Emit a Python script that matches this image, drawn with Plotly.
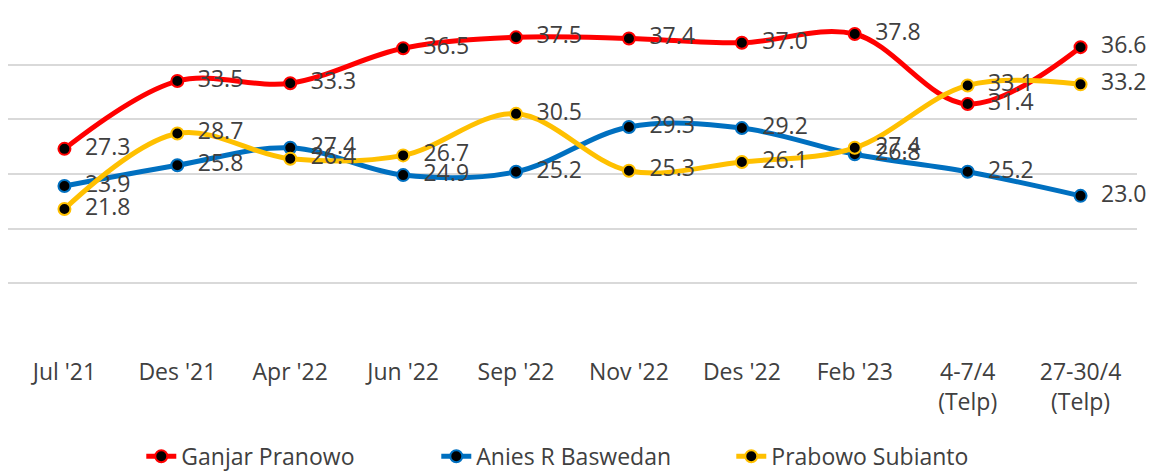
import plotly.graph_objects as go

categories = ["Jul '21", "Des '21", "Apr '22", "Jun '22", "Sep '22", "Nov '22",
              "Des '22", "Feb '23", "4-7/4<br>(Telp)", "27-30/4<br>(Telp)"]
ganjar = [27.3, 33.5, 33.3, 36.5, 37.5, 37.4, 37.0, 37.8, 31.4, 36.6]
anies = [23.9, 25.8, 27.4, 24.9, 25.2, 29.3, 29.2, 26.8, 25.2, 23.0]
prabowo = [21.8, 28.7, 26.4, 26.7, 30.5, 25.3, 26.1, 27.4, 33.1, 33.2]

series = [
    ("Ganjar Pranowo", ganjar, "#FF0000"),
    ("Anies R Baswedan", anies, "#0070C0"),
    ("Prabowo Subianto", prabowo, "#FFC000"),
]

FONT = "Open Sans"
TXT = "#404040"
FS = 23

fig = go.Figure()
for name, vals, col in series:
    fig.add_trace(go.Scatter(
        x=categories, y=vals, name=name, mode="lines+markers+text",
        line=dict(color=col, width=5, shape="spline", smoothing=1.0),
        marker=dict(color="black", size=12, line=dict(color=col, width=2)),
        text=[f"{v:.1f}" for v in vals],
        texttemplate="  %{text}",
        textposition="middle right",
        textfont=dict(family=FONT, size=FS, color=TXT),
        cliponaxis=False,
    ))

# page body adds an 8px offset, so the figure is 8px smaller and shifted
fig.update_layout(
    width=1151, height=464,
    margin=dict(l=0, r=22, t=2, b=134, autoexpand=False),
    plot_bgcolor="white", paper_bgcolor="white",
    font=dict(family=FONT, size=FS, color=TXT),
    showlegend=True,
    legend=dict(orientation="h", x=0.51, xanchor="center", y=-0.295, yanchor="top",
                font=dict(family=FONT, size=FS, color=TXT),
                entrywidth=250, entrywidthmode="pixels",
                traceorder="normal"),
    xaxis=dict(type="category", range=[-0.5, 9.5], showgrid=False, showline=False,
               ticks="", tickfont=dict(family=FONT, size=FS, color=TXT), ticklabelstandoff=18,
               zeroline=False, automargin=False),
    yaxis=dict(range=[10, 40], dtick=5, tick0=10, showticklabels=False, showgrid=True,
               gridcolor="#D9D9D9", gridwidth=2, zeroline=False, showline=False,
               automargin=False),
)

fig.write_html("out.html")
